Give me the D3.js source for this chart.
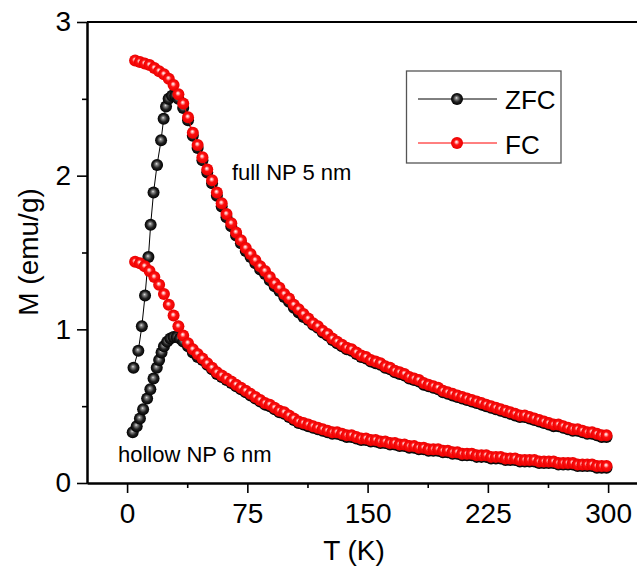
<!DOCTYPE html>
<html>
<head>
<meta charset="utf-8">
<script src="https://cdn.jsdelivr.net/npm/d3@7"></script>
<style>
body { margin: 0; background: #fff; }
text { font-family: "Liberation Sans", Arial, sans-serif; fill: #000; }
</style>
</head>
<body>
<script>
(function(){

//temperature grid of the FC runs and the high-T part of the ZFC runs (K)
var tempGrid = [5, 8, 11, 14, 17, 20, 23, 26, 29, 32, 35, 38, 41, 44, 47, 50, 53, 56, 59, 62,
    65, 68, 71, 74, 77, 80, 83, 86, 89, 92, 95, 98, 101, 104, 107, 110, 113, 116, 119, 122,
    125, 128, 131, 134, 137, 140, 143, 146, 149, 152, 155, 158, 161, 164, 167, 170, 173, 176, 179, 182,
    185, 188, 191, 194, 197, 200, 203, 206, 209, 212, 215, 218, 221, 224, 227, 230, 233, 236, 239, 242,
    245, 248, 251, 254, 257, 260, 263, 266, 269, 272, 275, 278, 281, 284, 287, 290, 293, 296, 299];

//FC, full NP 5 nm (emu/g)
var fcFull = [2.75, 2.74, 2.73, 2.72, 2.70, 2.68, 2.66, 2.63, 2.59, 2.53, 2.47, 2.38, 2.28, 2.20, 2.12, 2.04, 1.97, 1.89, 1.82, 1.75,
    1.69, 1.63, 1.58, 1.53, 1.49, 1.45, 1.41, 1.38, 1.34, 1.30, 1.27, 1.23, 1.20, 1.16, 1.13, 1.10, 1.07, 1.04, 1.02, 0.99,
    0.97, 0.94, 0.92, 0.90, 0.88, 0.87, 0.85, 0.83, 0.82, 0.80, 0.79, 0.78, 0.76, 0.75, 0.73, 0.72, 0.71, 0.69, 0.68, 0.67,
    0.65, 0.64, 0.63, 0.62, 0.60, 0.59, 0.58, 0.57, 0.56, 0.55, 0.54, 0.53, 0.52, 0.51, 0.50, 0.49, 0.48, 0.47, 0.46, 0.45,
    0.44, 0.44, 0.43, 0.42, 0.41, 0.40, 0.39, 0.38, 0.38, 0.37, 0.36, 0.35, 0.35, 0.34, 0.33, 0.33, 0.32, 0.31, 0.31];

//FC, hollow NP 6 nm
var fcHollow = [1.44, 1.43, 1.41, 1.38, 1.34, 1.29, 1.23, 1.16, 1.09, 1.02, 0.96, 0.91, 0.87, 0.84, 0.81, 0.78, 0.75, 0.72, 0.70, 0.68,
    0.66, 0.64, 0.62, 0.60, 0.58, 0.56, 0.54, 0.52, 0.51, 0.49, 0.47, 0.46, 0.44, 0.42, 0.40, 0.39, 0.38, 0.37, 0.36, 0.35,
    0.34, 0.33, 0.33, 0.32, 0.31, 0.31, 0.30, 0.29, 0.29, 0.28, 0.28, 0.27, 0.27, 0.26, 0.26, 0.25, 0.25, 0.24, 0.24, 0.23,
    0.23, 0.22, 0.22, 0.22, 0.21, 0.21, 0.20, 0.20, 0.19, 0.19, 0.19, 0.18, 0.18, 0.18, 0.17, 0.17, 0.17, 0.16, 0.16, 0.16,
    0.15, 0.15, 0.15, 0.15, 0.14, 0.14, 0.14, 0.14, 0.13, 0.13, 0.13, 0.13, 0.12, 0.12, 0.12, 0.12, 0.11, 0.11, 0.11];

//ZFC, full NP 5 nm: low-T points, then values on tempGrid from 38 K on
var zfcFullLowT = [4, 7, 9.2, 11.2, 13.3, 14.7, 16.5, 18.7, 21.2, 22.8, 24.3, 25.9, 28, 30, 32, 35];
var zfcFullLowM = [0.75, 0.86, 1.02, 1.22, 1.47, 1.68, 1.89, 2.07, 2.23, 2.37, 2.45, 2.50, 2.52, 2.52, 2.50, 2.44];
var zfcFullHighM = [2.36, 2.26, 2.18, 2.10, 2.02, 1.95, 1.87, 1.80, 1.73, 1.67, 1.61, 1.56, 1.51, 1.47, 1.43, 1.39, 1.36, 1.32, 1.28, 1.25,
    1.21, 1.18, 1.14, 1.11, 1.08, 1.06, 1.03, 1.01, 0.98, 0.96, 0.93, 0.91, 0.89, 0.87, 0.86, 0.84, 0.82, 0.81, 0.79, 0.78,
    0.77, 0.75, 0.74, 0.72, 0.71, 0.70, 0.68, 0.67, 0.66, 0.64, 0.63, 0.62, 0.61, 0.59, 0.58, 0.57, 0.56, 0.55, 0.54, 0.53,
    0.52, 0.51, 0.50, 0.49, 0.48, 0.47, 0.46, 0.45, 0.44, 0.43, 0.43, 0.42, 0.41, 0.40, 0.39, 0.38, 0.37, 0.37, 0.36, 0.35,
    0.34, 0.34, 0.33, 0.32, 0.32, 0.31, 0.30, 0.30];

//ZFC, hollow NP 6 nm: low-T points, then values on tempGrid from 47 K on
var zfcHollowLowT = [3.5, 6, 8, 10, 12.5, 14.5, 16.5, 18.5, 20, 21.5, 23, 25, 27, 29, 31, 33, 35, 38, 41, 44];
var zfcHollowLowM = [0.33, 0.37, 0.42, 0.48, 0.55, 0.61, 0.68, 0.75, 0.80, 0.85, 0.89, 0.92, 0.94, 0.95, 0.95, 0.94, 0.92, 0.89, 0.85, 0.82];
var zfcHollowHighM = [0.80, 0.77, 0.74, 0.71, 0.69, 0.67, 0.65, 0.63, 0.61, 0.59, 0.57, 0.55, 0.53, 0.51, 0.50, 0.48, 0.46, 0.45, 0.43, 0.41,
    0.39, 0.38, 0.37, 0.36, 0.35, 0.34, 0.33, 0.32, 0.32, 0.31, 0.30, 0.30, 0.29, 0.28, 0.28, 0.27, 0.27, 0.26, 0.26, 0.25,
    0.25, 0.24, 0.24, 0.23, 0.23, 0.22, 0.22, 0.21, 0.21, 0.21, 0.20, 0.20, 0.19, 0.19, 0.18, 0.18, 0.18, 0.17, 0.17, 0.17,
    0.16, 0.16, 0.16, 0.15, 0.15, 0.15, 0.14, 0.14, 0.14, 0.14, 0.13, 0.13, 0.13, 0.13, 0.12, 0.12, 0.12, 0.12, 0.11, 0.11,
    0.11, 0.11, 0.10, 0.10, 0.10];

//axis ticks and labels
var xTicks = [0, 75, 150, 225, 300];
var xMinor = [37.5, 112.5, 187.5, 262.5];
var yTicks = [0, 1, 2, 3];
var yMinor = [0.5, 1.5, 2.5];
var seriesNames = ["ZFC", "FC"];

//build point lists
function pairs(ts, ms){
    return d3.zip(ts, ms);
}
var zfcFullPts = pairs(zfcFullLowT, zfcFullLowM).concat(pairs(tempGrid.slice(11), zfcFullHighM));
var zfcHollowPts = pairs(zfcHollowLowT, zfcHollowLowM).concat(pairs(tempGrid.slice(14), zfcHollowHighM));
var fcFullPts = pairs(tempGrid, fcFull);
var fcHollowPts = pairs(tempGrid, fcHollow);

//frame
var width = 637,
    height = 569;

var svg = d3.select("body")
    .append("svg")
    .attr("width", width)
    .attr("height", height);

var x = d3.scaleLinear().domain([-25, 325]).range([87, 648.2]);
var y = d3.scaleLinear().domain([0, 3]).range([483, 22]);

//sphere shading
var defs = svg.append("defs");
function sphereGrad(id, stops){
    var g = defs.append("radialGradient")
        .attr("id", id)
        .attr("cx", 0.5).attr("cy", 0.5).attr("r", 0.5)
        .attr("fx", 0.45).attr("fy", 0.4);
    stops.forEach(function(s){
        g.append("stop").attr("offset", s[0]).attr("stop-color", s[1]);
    });
}
sphereGrad("ballBlack", [[0, "#e6e6e6"], [0.2, "#8a8a8a"], [0.6, "#222"], [1, "#000"]]);
sphereGrad("ballRed", [[0, "#ffffff"], [0.18, "#ffb0b0"], [0.45, "#ff1010"], [1, "#e80000"]]);

var line = d3.line()
    .x(function(d){ return x(d[0]); })
    .y(function(d){ return y(d[1]); });

//draw one series: thin line plus shaded balls
function drawSeries(pts, lineColor, grad, r){
    svg.append("path")
        .datum(pts)
        .attr("fill", "none")
        .attr("stroke", lineColor)
        .attr("stroke-width", 1)
        .attr("d", line);
    svg.append("g")
        .selectAll("circle")
        .data(pts)
        .enter()
        .append("circle")
        .attr("cx", function(d){ return x(d[0]); })
        .attr("cy", function(d){ return y(d[1]); })
        .attr("r", r)
        .attr("fill", "url(#" + grad + ")");
}

drawSeries(zfcFullPts, "#000", "ballBlack", 6);
drawSeries(zfcHollowPts, "#000", "ballBlack", 6);
drawSeries(fcFullPts, "#ff0000", "ballRed", 6);
drawSeries(fcHollowPts, "#ff0000", "ballRed", 6);

//axes
function styleAxis(g){
    g.select(".domain").attr("stroke-width", 2);
    g.selectAll(".tick line").attr("stroke-width", 1.6);
    g.selectAll("text")
        .style("font-family", "'Liberation Sans', Arial, sans-serif")
        .style("font-size", "28px");
}

svg.append("g")
    .attr("transform", "translate(0,483)")
    .call(d3.axisBottom(x).tickValues(xMinor).tickSize(5).tickSizeOuter(0).tickFormat(""))
    .call(styleAxis);
svg.append("g")
    .attr("transform", "translate(0,483)")
    .call(d3.axisBottom(x).tickValues(xTicks).tickSize(10).tickSizeOuter(0).tickPadding(10).tickFormat(d3.format("d")))
    .call(styleAxis);

svg.append("g")
    .attr("transform", "translate(87,0)")
    .call(d3.axisLeft(y).tickValues(yMinor).tickSize(5).tickSizeOuter(0).tickFormat(""))
    .call(styleAxis);
svg.append("g")
    .attr("transform", "translate(87,0)")
    .call(d3.axisLeft(y).tickValues(yTicks).tickSize(10).tickSizeOuter(0).tickPadding(6).tickFormat(d3.format("d")))
    .call(styleAxis);

//top spine
svg.append("line")
    .attr("x1", x(-25)).attr("x2", x(325))
    .attr("y1", y(3)).attr("y2", y(3))
    .attr("stroke", "#000")
    .attr("stroke-width", 2);

//axis titles
svg.append("text")
    .attr("x", 354)
    .attr("y", 560)
    .attr("text-anchor", "middle")
    .style("font-size", "28px")
    .text("T (K)");

svg.append("text")
    .attr("transform", "translate(38,252) rotate(-90)")
    .attr("text-anchor", "middle")
    .style("font-size", "28px")
    .text("M (emu/g)");

//annotations
svg.append("text")
    .attr("x", 232)
    .attr("y", 180)
    .style("font-size", "22px")
    .text("full NP 5 nm");

svg.append("text")
    .attr("x", 118)
    .attr("y", 462)
    .style("font-size", "22px")
    .text("hollow NP 6 nm");

//legend
var legend = svg.append("g");
legend.append("rect")
    .attr("x", 406.5).attr("y", 71)
    .attr("width", 154.5).attr("height", 92)
    .attr("fill", "#fff")
    .attr("stroke", "#555")
    .attr("stroke-width", 1.3);

var legendRows = [
    {name: seriesNames[0], color: "#000", grad: "ballBlack", cy: 99, ty: 109},
    {name: seriesNames[1], color: "#ff0000", grad: "ballRed", cy: 143, ty: 154}
];
legendRows.forEach(function(row){
    legend.append("line")
        .attr("x1", 418).attr("x2", 497)
        .attr("y1", row.cy).attr("y2", row.cy)
        .attr("stroke", row.color)
        .attr("stroke-width", 1);
    legend.append("circle")
        .attr("cx", 457).attr("cy", row.cy)
        .attr("r", 6)
        .attr("fill", "url(#" + row.grad + ")");
    legend.append("text")
        .attr("x", 505).attr("y", row.ty)
        .style("font-size", "26px")
        .text(row.name);
});

})();
</script>
</body>
</html>
